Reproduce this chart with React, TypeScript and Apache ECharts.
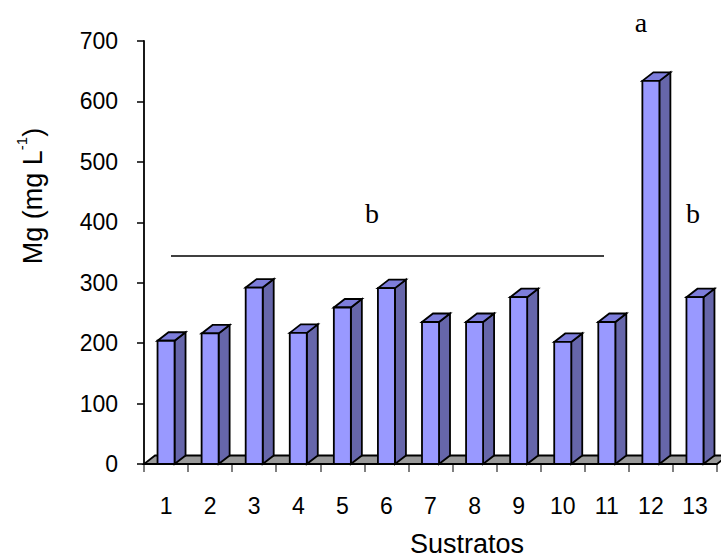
import React, { useEffect, useRef } from "react";
import * as echarts from "echarts";

// Substrate numbers along the category axis
const sustratos = ["1", "2", "3", "4", "5", "6", "7", "8", "9", "10", "11", "12", "13"];
// Mg concentration (mg L-1) for each substrate
const mgValues = [204, 216, 292, 217, 259, 291, 235, 235, 276, 202, 235, 634, 276];
// Value-axis ticks
const yTicks = { min: 0, max: 700, interval: 100 };

const SANS = "'Liberation Sans', Arial, sans-serif";
const SERIF = "'Liberation Serif', 'Times New Roman', serif";

// 3D offsets for the column depth
const DX = 11;
const DY = 8.5;

const FRONT = "#9999FF";
const SIDE = "#6666AA";
const TOP = "#7D7DDB";
const FLOOR = "#999999";

export default function App() {
  const ref = useRef<HTMLDivElement>(null);

  useEffect(() => {
    document.body.style.margin = "0";
    if (!ref.current) return;
    const chart = echarts.init(ref.current, undefined, { renderer: "svg" });

    const edge = { stroke: "#000", lineWidth: 1.8 };

    chart.setOption({
      animation: false,
      backgroundColor: "#ffffff",
      grid: { left: 144, right: 4, top: 41, bottom: 95, containLabel: false },
      xAxis: {
        type: "category",
        data: sustratos,
        axisLine: { show: false },
        axisTick: { show: true, length: 8, interval: 0, lineStyle: { color: "#555", width: 1.5 } },
        axisLabel: { fontSize: 23, fontFamily: SANS, color: "#000", margin: 30, interval: 0 },
        splitLine: { show: false },
      },
      yAxis: {
        type: "value",
        min: yTicks.min,
        max: yTicks.max,
        interval: yTicks.interval,
        axisLine: { show: true, lineStyle: { color: "#000", width: 1.8 } },
        axisTick: { show: true, length: 7, lineStyle: { color: "#000", width: 1.5 } },
        axisLabel: { fontSize: 23, fontFamily: SANS, color: "#000", margin: 26 },
        splitLine: { show: false },
      },
      series: [
        {
          // grey floor under the columns
          type: "custom",
          z: 1,
          clip: false,
          silent: true,
          data: [[0, 0]],
          renderItem: (params: any) => {
            const cs = params.coordSys;
            const x = cs.x;
            const w = cs.width;
            const yb = cs.y + cs.height;
            return {
              type: "polygon",
              shape: {
                points: [
                  [x, yb],
                  [x + w, yb],
                  [x + w + DX, yb - DY],
                  [x + DX, yb - DY],
                ],
              },
              style: { fill: FLOOR, ...edge },
            };
          },
        },
        {
          type: "custom",
          z: 2,
          clip: false,
          data: mgValues.map((v, i) => [i, v]),
          renderItem: (params: any, api: any) => {
            const i = api.value(0);
            const v = api.value(1);
            const top = api.coord([i, v]);
            const base = api.coord([i, 0]);
            const bw = api.size([1, 0])[0] * 0.386;
            const x0 = top[0] - bw / 2;
            const x1 = top[0] + bw / 2;
            const yt = top[1];
            const yb = base[1];
            return {
              type: "group",
              children: [
                {
                  type: "polygon",
                  shape: { points: [[x1, yb], [x1 + DX, yb - DY], [x1 + DX, yt - DY], [x1, yt]] },
                  style: { fill: SIDE, ...edge },
                },
                {
                  type: "polygon",
                  shape: { points: [[x0, yt], [x0 + DX, yt - DY], [x1 + DX, yt - DY], [x1, yt]] },
                  style: { fill: TOP, ...edge },
                },
                {
                  type: "rect",
                  shape: { x: x0, y: yt, width: bw, height: yb - yt },
                  style: { fill: FRONT, ...edge },
                },
              ],
            };
          },
        },
      ],
      graphic: [
        {
          type: "text",
          x: 30,
          y: 196,
          rotation: Math.PI / 2,
          style: {
            text: "{n|Mg (mg L}{s|-1}{n|)}",
            align: "center",
            verticalAlign: "middle",
            fill: "#000",
            rich: {
              n: { fontSize: 27, fontFamily: SANS, fill: "#000", lineHeight: 32, verticalAlign: "bottom" },
              s: { fontSize: 15, fontFamily: SANS, fill: "#000", lineHeight: 32, verticalAlign: "top" },
            },
          },
        },
        {
          type: "text",
          x: 467,
          y: 544,
          style: {
            text: "Sustratos",
            fontSize: 27,
            fontFamily: SANS,
            fill: "#000",
            align: "center",
            verticalAlign: "middle",
          },
        },
        {
          type: "line",
          shape: { x1: 171, y1: 256, x2: 604, y2: 256 },
          style: { stroke: "#000", lineWidth: 1.5 },
        },
        {
          type: "text",
          x: 372,
          y: 213,
          style: { text: "b", fontSize: 28, fontFamily: SERIF, fill: "#000", align: "center", verticalAlign: "middle" },
        },
        {
          type: "text",
          x: 693,
          y: 213,
          style: { text: "b", fontSize: 28, fontFamily: SERIF, fill: "#000", align: "center", verticalAlign: "middle" },
        },
        {
          type: "text",
          x: 641,
          y: 22,
          style: { text: "a", fontSize: 28, fontFamily: SERIF, fill: "#000", align: "center", verticalAlign: "middle" },
        },
      ],
    });

    return () => chart.dispose();
  }, []);

  return (
    <div
      ref={ref}
      style={{ position: "fixed", left: 0, top: 0, width: 721, height: 559 }}
    />
  );
}
